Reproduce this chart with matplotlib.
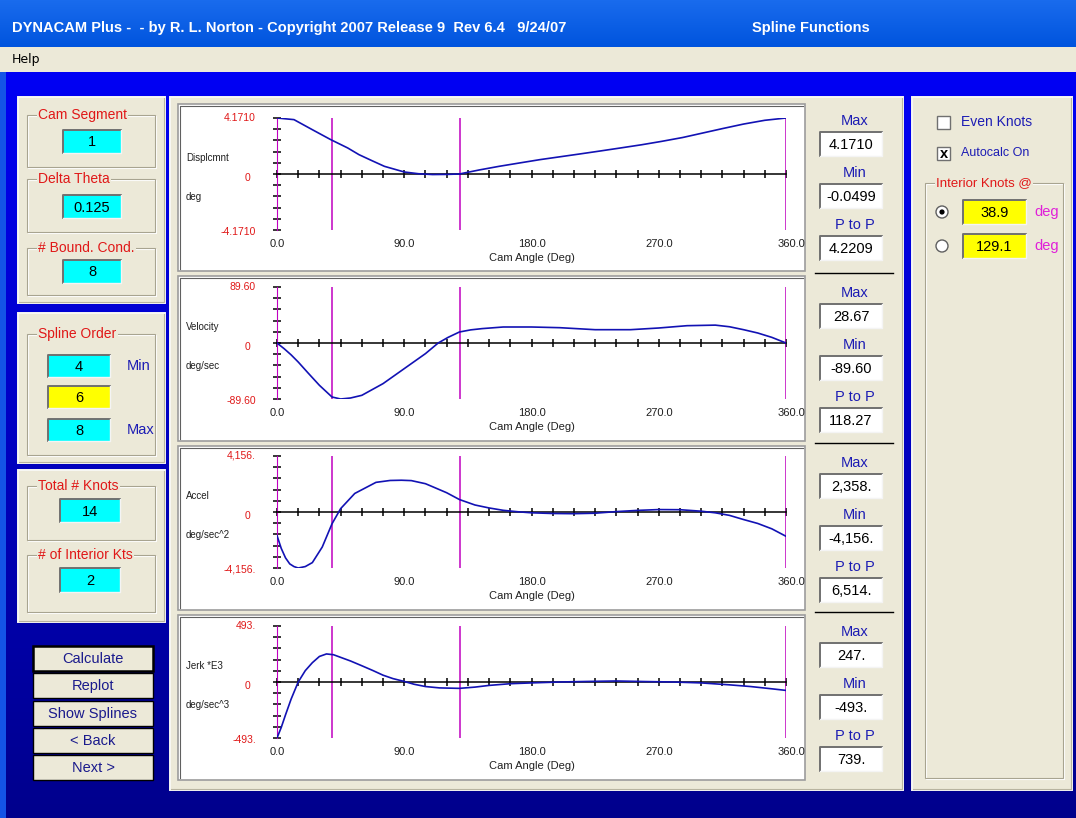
import numpy as np
import matplotlib.pyplot as plt
from matplotlib.patches import Rectangle, Circle

W, H = 1076, 818

# ---- data ----
knots = [38.9, 129.1]
x_ticks_lbl = ["0.0", "90.0", "180.0", "270.0", "360.0"]
x_ticks_val = [0, 90, 180, 270, 360]

disp_deg = [0, 12, 25, 38, 50, 58, 67, 76, 90, 100, 110, 120, 129, 143, 157,
            172, 186, 200, 214, 229, 243, 258, 272, 287, 301, 315, 330, 345, 360]
disp_val = [4.171, 4.05, 3.30, 2.56, 1.94, 1.44, 1.00, 0.57, 0.15, 0.02, -0.04,
            -0.03, 0.0, 0.30, 0.57, 0.83, 1.07, 1.28, 1.49, 1.72, 1.94, 2.18,
            2.43, 2.72, 3.05, 3.38, 3.72, 4.00, 4.171]

vel_deg = [0, 5, 10, 15, 22, 30, 38.9, 45, 52, 60, 75, 90, 105, 114, 121, 129,
           137, 145, 160, 180, 200, 225, 250, 270, 290, 310, 320, 330, 340, 350, 360]
vel_val = [0, -9, -19, -30.4, -48, -67.7, -86.4, -89.6, -88, -83.7, -65, -41,
           -17, 0, 9, 17.6, 21, 23, 25.6, 25.6, 24.5, 21.3, 21.3, 24, 27.7,
           28.6, 26, 21.3, 16, 9, 0]

acc_deg = [0, 3, 6, 9, 12, 15, 20, 25, 32, 38.9, 45, 55, 70, 80, 88, 95, 105,
           110, 120, 129, 140, 150, 160, 170, 180, 195, 210, 225, 240, 255, 270,
           285, 300, 310, 320, 330, 340, 350, 360]
acc_val = [-1753, -2700, -3400, -3850, -4050, -4156, -4050, -3755, -2600, -876,
           250, 1377, 2200, 2340, 2358, 2330, 2100, 1878, 1430, 926, 520, 300,
           125, 20, -60, -110, -125, -90, 30, 120, 180, 170, 60, -60, -250,
           -560, -850, -1250, -1803]

jerk_deg = [0, 3, 6, 10, 15, 20, 25, 30, 35, 40, 45, 52, 60, 68, 75, 82, 90, 97,
            105, 115, 129, 140, 150, 165, 180, 200, 220, 240, 260, 280, 300,
            320, 335, 350, 360]
jerk_val = [-493, -400, -290, -150, 0, 100, 170, 225, 247, 240, 217, 185, 143,
            100, 60, 30, 5, -20, -40, -52, -56, -45, -30, -15, -8, 0, 5, 9, 4,
            0, -8, -25, -40, -60, -74]

plot_names = ["Displcmnt", "Velocity", "Accel", "Jerk *E3"]
plot_units = ["deg", "deg/sec", "deg/sec^2", "deg/sec^3"]
plot_lim = [4.1710, 89.60, 4156, 493]
lim_lbl = [("4.1710", "-4.1710"), ("89.60", "-89.60"),
           ("4,156.", "-4,156."), ("493.", "-493.")]
stat_max = ["4.1710", "28.67", "2,358.", "247."]
stat_min = ["-0.0499", "-89.60", "-4,156.", "-493."]
stat_ptp = ["4.2209", "118.27", "6,514.", "739."]

BEIGE = "#ece9d8"
RED = "#e01818"
BLUE_TXT = "#1c1cb4"
FONT = "Liberation Sans"

fig = plt.figure(figsize=(W / 100, H / 100), dpi=100)
bg = fig.add_axes([0, 0, 1, 1])
bg.set_xlim(0, W)
bg.set_ylim(H, 0)
bg.axis("off")

# body gradient (bright blue at top -> navy at bottom)
grad = np.linspace(0, 1, 256)[:, None]
c0 = np.array([0.0, 0.0, 0.96])
c1 = np.array([0.0, 0.0, 0.55])
img = c0 + (c1 - c0) * grad[..., None]
bg.imshow(img, extent=[0, W, H, 72], aspect="auto", zorder=0)

# title bar and menu bar
tb = np.linspace(0, 1, 64)[:, None]
t0 = np.array([0.10, 0.42, 0.93])
t1 = np.array([0.0, 0.33, 0.87])
bg.imshow(t0 + (t1 - t0) * tb[..., None], extent=[0, W, 47, 0], aspect="auto", zorder=0)
bg.add_patch(Rectangle((0, 47), W, 25, facecolor=BEIGE, edgecolor="none", zorder=1))
bg.add_patch(Rectangle((0, 72), 6, H - 72, facecolor="#1454e6", edgecolor="none", zorder=1))
bg.text(12, 28, "DYNACAM Plus -  - by R. L. Norton - Copyright 2007 Release 9  Rev 6.4   9/24/07",
        color="white", fontsize=10.5, fontweight="bold", family=FONT,
        va="center", ha="left", zorder=3)
bg.text(752, 28, "Spline Functions", color="white", fontsize=10.5, fontweight="bold",
        family=FONT, va="center", ha="left", zorder=3)
bg.text(12, 60, "Help", color="black", fontsize=9, family="DejaVu Sans", va="center", zorder=3)


def panel(x0, y0, x1, y1, face=BEIGE):
    bg.add_patch(Rectangle((x0, y0), x1 - x0, y1 - y0, facecolor=face,
                           edgecolor="#f8f8f4", lw=1.4, zorder=1))
    bg.plot([x0 + 1, x1 - 1, x1 - 1], [y1 - 1, y1 - 1, y0 + 1], color="#b8b4a0", lw=0.8, zorder=2)


def group(x0, y0, x1, y1, label, color=RED, size=10):
    bg.add_patch(Rectangle((x0 + 1, y0 + 1), x1 - x0, y1 - y0, facecolor="none",
                           edgecolor="white", lw=0.8, zorder=2))
    bg.add_patch(Rectangle((x0, y0), x1 - x0, y1 - y0, facecolor="none",
                           edgecolor="#a8a490", lw=0.8, zorder=2))
    bg.text(x0 + 11, y0, label, color=color, fontsize=size, family=FONT, va="center",
            ha="left", zorder=3, bbox=dict(facecolor=BEIGE, edgecolor="none", pad=1))


def field(x0, y0, x1, y1, text, face="#00ffff", size=10.5):
    bg.add_patch(Rectangle((x0, y0), x1 - x0, y1 - y0, facecolor=face,
                           edgecolor="none", zorder=2))
    bg.plot([x0, x0, x1], [y1, y0, y0], color="#707070", lw=1.4, zorder=3)
    bg.plot([x0, x1, x1], [y1, y1, y0], color="#f4f4f4", lw=1.0, zorder=3)
    bg.text((x0 + x1) / 2, (y0 + y1) / 2 + 1, text, color="black", fontsize=size,
            family=FONT, ha="center", va="center", zorder=4)


# left panels
panel(18, 97, 165, 303)
group(27, 115, 155, 167, "Cam Segment")
field(63, 130, 121, 153, "1")
group(27, 179, 155, 232, "Delta Theta")
field(63, 195, 121, 218, "0.125")
group(27, 248, 155, 295, "# Bound. Cond.")
field(63, 260, 121, 283, "8")

panel(18, 313, 165, 463)
group(27, 334, 155, 455, "Spline Order")
field(48, 355, 110, 377, "4")
field(48, 386, 110, 408, "6", face="#ffff00")
field(48, 419, 110, 441, "8")
bg.text(127, 366, "Min", color=BLUE_TXT, fontsize=10.5, family=FONT, va="center", zorder=3)
bg.text(127, 430, "Max", color=BLUE_TXT, fontsize=10.5, family=FONT, va="center", zorder=3)

panel(18, 470, 165, 622)
group(27, 486, 155, 540, "Total # Knots")
field(60, 499, 120, 522, "14")
group(27, 555, 155, 612, "# of Interior Kts")
field(60, 568, 120, 592, "2")

# buttons
buttons = ["Calculate", "Replot", "Show Splines", "< Back", "Next >"]
for i, b in enumerate(buttons):
    y0 = 646 + i * 27.3
    bg.add_patch(Rectangle((33, y0), 120, 25, facecolor=BEIGE, edgecolor="black",
                           lw=1.8 if i == 0 else 1.0, zorder=2))
    bg.text(93, y0 + 13, b, color="#1a1a8c", fontsize=10.5, family=FONT,
            ha="center", va="center", zorder=3)

# chart panel and right panel
panel(170, 97, 903, 790)
panel(912, 97, 1072, 790)

box_y = [(104, 271), (276, 441), (446, 610), (615, 780)]
axis_y = [(118, 230), (287, 399), (456, 568), (626, 738)]
series = [(disp_deg, disp_val), (vel_deg, vel_val), (acc_deg, acc_val), (jerk_deg, jerk_val)]
AX0, AX1 = 277, 786

for k in range(4):
    by0, by1 = box_y[k]
    bg.add_patch(Rectangle((178, by0), 627, by1 - by0, facecolor="white",
                           edgecolor="#9c9c9c", lw=1.2, zorder=1.5))
    bg.plot([180, 180, 803], [by1 - 2, by0 + 2, by0 + 2], color="#606060", lw=0.8, zorder=1.6)

    ay0, ay1 = axis_y[k]
    ax = fig.add_axes([AX0 / W, 1 - ay1 / H, (AX1 - AX0) / W, (ay1 - ay0) / H])
    ax.patch.set_alpha(0)
    lim = plot_lim[k]
    ax.set_xlim(0, 360)
    ax.set_ylim(-lim, lim)
    for s in ["top", "right"]:
        ax.spines[s].set_visible(False)
    ax.spines["bottom"].set_position(("data", 0))
    ax.spines["left"].set_position(("data", 0))
    ax.spines["bottom"].set_linewidth(1.1)
    ax.spines["left"].set_color("#c000c0")
    ax.set_xticks(np.arange(0, 361, 15))
    ax.set_yticks(np.linspace(-lim, lim, 11))
    ax.tick_params(axis="both", direction="inout", length=6, width=1.1, color="black",
                   labelbottom=False, labelleft=False)
    for kn in knots + [360]:
        ax.axvline(kn, color="#c000c0", lw=1.1, zorder=2)
    xs, ys = series[k]
    ax.plot(xs, ys, color="#1212b4", lw=1.2, zorder=3)

    for v, lbl in zip(x_ticks_val, x_ticks_lbl):
        ax.annotate(lbl, (v, -lim), xytext=(0 if v < 360 else 5, -14),
                    textcoords="offset pixels", ha="center", va="center",
                    fontsize=8, family=FONT, color="#202020", annotation_clip=False)
    ax.annotate("Cam Angle (Deg)", (180, -lim), xytext=(0, -28), textcoords="offset pixels",
                ha="center", va="center", fontsize=8, family=FONT, color="#202020",
                annotation_clip=False)
    ax.annotate(lim_lbl[k][0], (0, lim), xytext=(-21, 0), textcoords="offset pixels",
                ha="right", va="center", fontsize=7.5, family=FONT, color=RED,
                annotation_clip=False)
    ax.annotate("0", (0, 0), xytext=(-27, -4), textcoords="offset pixels",
                ha="right", va="center", fontsize=7.5, family=FONT, color=RED,
                annotation_clip=False)
    ax.annotate(lim_lbl[k][1], (0, -lim), xytext=(-21, -2), textcoords="offset pixels",
                ha="right", va="center", fontsize=7.5, family=FONT, color=RED,
                annotation_clip=False)
    ax.annotate(plot_names[k], (0, 0), xytext=(-91, 16), textcoords="offset pixels",
                ha="left", va="center", fontsize=7, family=FONT, color="#202020",
                annotation_clip=False)
    ax.annotate(plot_units[k], (0, 0), xytext=(-91, -23), textcoords="offset pixels",
                ha="left", va="center", fontsize=7, family=FONT, color="#202020",
                annotation_clip=False)

    # stats column
    sy = by0
    for j, (name, val) in enumerate(zip(["Max", "Min", "P to P"],
                                        [stat_max[k], stat_min[k], stat_ptp[k]])):
        ty = sy + 17 + j * 52
        bg.text(855, ty, name, color=BLUE_TXT, fontsize=10.5, family=FONT,
                ha="center", va="center", zorder=3)
        field(820, ty + 11, 882, ty + 35, val, face="white")
    if k < 3:
        bg.plot([815, 893], [by1 + 2, by1 + 2], color="black", lw=1.0, zorder=3)

# right panel widgets
bg.add_patch(Rectangle((937, 116), 13, 13, facecolor="white", edgecolor="#707070", lw=1, zorder=2))
bg.text(961, 122, "Even Knots", color=BLUE_TXT, fontsize=10, family=FONT, va="center", zorder=3)
bg.add_patch(Rectangle((937, 147), 13, 13, facecolor="white", edgecolor="#707070", lw=1, zorder=2))
bg.text(943.5, 153.5, "x", color="black", fontsize=10.5, fontweight="bold", family=FONT,
        ha="center", va="center", zorder=3)
bg.text(961, 153, "Autocalc On", color=BLUE_TXT, fontsize=9, family=FONT, va="center", zorder=3)
group(925, 183, 1063, 778, "Interior Knots @", size=9.5)
for i, kv in enumerate(knots):
    cy = 212 + i * 34
    bg.add_patch(Circle((942, cy), 6, facecolor="white", edgecolor="#606060", lw=1, zorder=3))
    if i == 0:
        bg.add_patch(Circle((942, cy), 2.6, facecolor="black", edgecolor="none", zorder=4))
    field(963, cy - 12, 1026, cy + 12, f"{kv:.1f}", face="#ffff00")
    bg.text(1047, cy, "deg", color="#e020d8", fontsize=10.5, family=FONT,
            ha="center", va="center", zorder=3)

fig.savefig("out.png", dpi=100)
